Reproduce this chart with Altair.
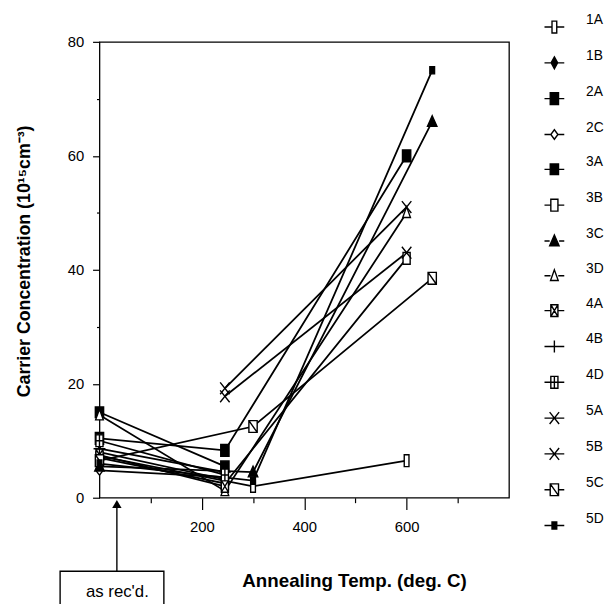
import altair as alt
import pandas as pd

# ---------------- data ----------------
series = ["1A", "1B", "2A", "2C", "3A", "3B", "3C", "3D",
          "4A", "4B", "4D", "5A", "5B", "5C", "5D"]

temps = {
    "1A": [0, 300, 600], "1B": [0, 245], "2A": [0, 245, 600], "2C": [0, 245],
    "3A": [0, 245], "3B": [0, 245, 600], "3C": [0, 300, 650], "3D": [0, 245, 600],
    "4A": [0, 245], "4B": [0, 245], "4D": [0, 245], "5A": [245, 600],
    "5B": [245, 600], "5C": [0, 300, 650], "5D": [0, 300, 650],
}
concs = {
    "1A": [7.3, 2.0, 6.5], "1B": [8.0, 3.2], "2A": [10.4, 8.3, 60.0], "2C": [4.8, 3.6],
    "3A": [15.0, 5.5], "3B": [7.0, 2.5, 42.0], "3C": [5.5, 4.5, 66.0], "3D": [14.5, 1.2, 50.0],
    "4A": [7.5, 2.0], "4B": [8.6, 4.5], "4D": [10.0, 4.0], "5A": [19.2, 51.0],
    "5B": [17.8, 43.0], "5C": [6.5, 12.5, 38.5], "5D": [6.0, 3.0, 75.0],
}
filled_series = ["1B", "2A", "3A", "3C", "5D"]

x_ticks = [100, 200, 300, 400, 500, 600, 700]
y_ticks = [0, 10, 20, 30, 40, 50, 60, 70, 80]

# "as rec'd." annotation (data units)
note_text = "as rec'd."
note_x = [35]
note_y = [-16.6]
box_x = [-76.9]
box_x2 = [125.8]
box_y = [-12.9]
box_y2 = [-24.0]
arrow_x = [34]
arrow_y = [-12.9]
arrow_y2 = [-1.8]
arrow_head_y = [-1.1]

# ---------------- marker shapes ----------------
def rect(w, h):
    return f"M{-w},{-h}H{w}V{h}H{-w}Z"

plain = {
    "1A": rect(0.4, 1),
    "1B": "M0,-1L0.55,0L0,1L-0.55,0Z",
    "2A": rect(0.7, 1),
    "2C": "M0,-0.8L0.6,0L0,0.8L-0.6,0Z",
    "3A": rect(0.7, 0.9),
    "3B": rect(0.6, 1),
    "3C": "M0,-1L0.8,0.8L-0.8,0.8Z",
    "3D": "M0,-1L0.65,0.8L-0.65,0.8Z",
    "4A": rect(0.6, 1) + "M-0.6,-1L0.6,1M0.6,-1L-0.6,1",
    "4B": "M-1,0H1M0,-1V1",
    "4D": rect(0.6, 1) + "M0,-1V1M-0.6,0H0.6",
    "5A": "M-0.8,-1L0.8,1M0.8,-1L-0.8,1",
    "5B": "M-0.8,-1L0.8,1M0.8,-1L-0.8,1",
    "5C": rect(0.7, 1) + "M-0.7,-1L0.7,1",
    "5D": rect(0.4, 0.6),
}
half_w = {"1A": 0.4, "1B": 0.55, "2A": 0.7, "2C": 0.6, "3A": 0.7, "3B": 0.6,
          "3C": 0.8, "3D": 0.65, "4A": 0.6, "4B": 0.0, "4D": 0.6, "5A": 0.0,
          "5B": 0.0, "5C": 0.7, "5D": 0.4}
S = 1.67
stub = {}
for s in series:
    w = half_w[s]
    if w == 0:
        stub[s] = f"M{-S},0H{S}" + plain[s]
    else:
        stub[s] = f"M{-S},0H{-w}M{w},0H{S}" + plain[s]

fills = ["black" if s in filled_series else "white" for s in series]

rows = []
for s in series:
    for t, c in zip(temps[s], concs[s]):
        rows.append({"series": s, "temp": t, "conc": c})
df = pd.DataFrame(rows)

FONT = "Liberation Sans"

x_axis = alt.Axis(
    values=x_ticks,
    labelExpr="datum.value % 200 === 0 ? datum.label : ''",
    tickSize={"condition": {"test": "datum.value % 200 === 0", "value": 12}, "value": 5},
    tickColor="black", tickWidth=1.2, domain=False, grid=False,
    labelFont=FONT, labelFontSize=15, labelColor="black", labelPadding=10,
    labelOverlap=False, labelFlush=False,
    title="Annealing Temp. (deg. C)", titleFont=FONT, titleFontSize=19,
    titleFontWeight="bold", titleColor="black",
    titleX=258, titleY=84, titleBaseline="middle", titleAlign="center",
)
y_axis = alt.Axis(
    values=y_ticks,
    labelExpr="datum.value % 20 === 0 ? datum.label : ''",
    tickSize={"condition": {"test": "datum.value % 20 === 0", "value": 7}, "value": 3},
    tickColor="black", tickWidth=1.2, domain=False, grid=False,
    labelFont=FONT, labelFontSize=15, labelColor="black", labelPadding=9,
    labelOverlap=False, labelFlush=False,
    title="Carrier Concentration (10¹⁵cm⁻³)", titleFont=FONT, titleFontSize=18,
    titleFontWeight="bold", titleColor="black",
    titleX=-76, titleY=222, titleBaseline="middle", titleAlign="center", titleAngle=270,
)

xs = alt.Scale(domain=[0, 800], nice=False, zero=False)
ys = alt.Scale(domain=[0, 80], nice=False, zero=False)

base = alt.Chart(df)

lines = base.mark_line(color="black", strokeWidth=1.8).encode(
    x=alt.X("temp:Q", scale=xs, axis=x_axis),
    y=alt.Y("conc:Q", scale=ys, axis=y_axis),
    detail="series:N",
    order="temp:Q",
)

points = base.mark_point(filled=True, size=144, stroke="black", strokeWidth=1.4, opacity=1).encode(
    x="temp:Q",
    y="conc:Q",
    shape=alt.Shape("series:N", scale=alt.Scale(domain=series, range=[plain[s] for s in series]), legend=None),
    color=alt.Color("series:N", scale=alt.Scale(domain=series, range=fills), legend=None),
)

leg = alt.Legend(
    orient="none", legendX=454, legendY=-22, direction="vertical", title=None,
    symbolSize=144, symbolStrokeColor="black", symbolStrokeWidth=1.4,
    labelFont=FONT, labelFontSize=14, labelColor="black", labelBaseline="bottom",
    labelOffset=25, rowPadding=13.3, padding=0,
)
legend_layer = base.transform_filter("false").mark_point(
    filled=True, size=144, stroke="black", strokeWidth=1.4, opacity=1
).encode(
    x="temp:Q",
    y="conc:Q",
    shape=alt.Shape("series:N", scale=alt.Scale(domain=series, range=[stub[s] for s in series]), legend=leg),
    color=alt.Color("series:N", scale=alt.Scale(domain=series, range=fills), legend=leg),
)

note_df = pd.DataFrame({"x": box_x, "x2": box_x2, "y": box_y, "y2": box_y2})
box = alt.Chart(note_df).mark_rect(fill="white", fillOpacity=0, stroke="black", strokeWidth=1.4).encode(
    x="x:Q", x2="x2:Q", y="y:Q", y2="y2:Q")

arrow_df = pd.DataFrame({"x": arrow_x, "y": arrow_y, "y2": arrow_y2, "hy": arrow_head_y})
arrow = alt.Chart(arrow_df).mark_rule(color="black", strokeWidth=1.4).encode(
    x="x:Q", y="y:Q", y2="y2:Q")
head = alt.Chart(arrow_df).mark_point(shape="triangle-up", filled=True, color="black", size=90, opacity=1).encode(
    x="x:Q", y="hy:Q")

text_df = pd.DataFrame({"x": note_x, "y": note_y, "t": [note_text]})
note = alt.Chart(text_df).mark_text(font=FONT, fontSize=17, color="black", align="center", baseline="middle").encode(
    x="x:Q", y="y:Q", text="t:N")

chart = alt.layer(lines, points, legend_layer, box, arrow, head, note).resolve_scale(
    shape="independent", color="independent"
).properties(
    width=415, height=462,
    autosize=alt.AutoSizeParams(type="none"),
    padding={"left": 92.7, "top": 30.3, "right": 97.3, "bottom": 103.7},
    background="white",
).configure_view(stroke="black", strokeWidth=1.3)

chart.save("out.html", embed_options={"renderer": "svg", "actions": False})
